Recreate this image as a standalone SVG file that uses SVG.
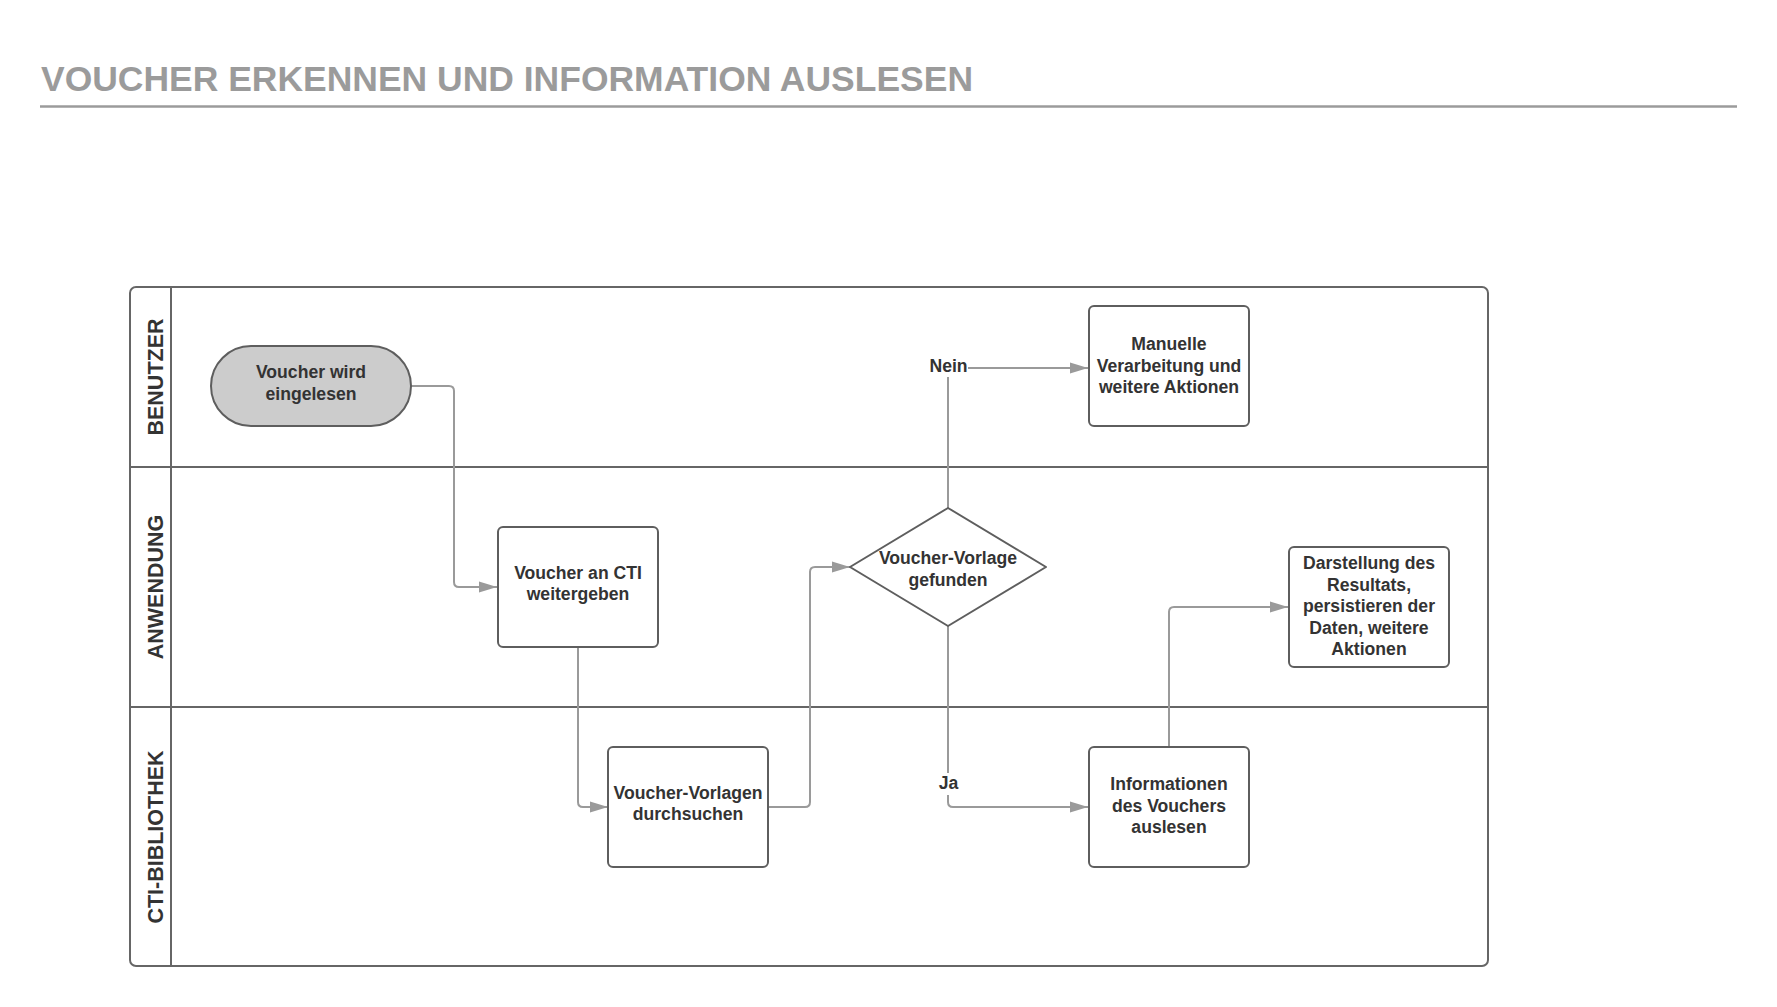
<svg xmlns="http://www.w3.org/2000/svg" width="1777" height="1007" viewBox="0 0 1777 1007">
<style>
.title{font-family:"Liberation Sans",Arial,sans-serif;font-weight:bold;font-size:35.5px;fill:#9b9b9b}
.lane{font-family:"Liberation Sans",Arial,sans-serif;font-weight:bold;font-size:21.5px;fill:#333}
.t{font-family:"Liberation Sans",Arial,sans-serif;font-weight:bold;font-size:17.6px;fill:#333;text-anchor:middle}
.box{fill:#fff;stroke:#5e5e5e;stroke-width:2}
.pool{fill:none;stroke:#666;stroke-width:2}
.conn{fill:none;stroke:#9a9a9a;stroke-width:2}
</style>
<defs>
<marker id="arr" markerUnits="userSpaceOnUse" markerWidth="18" markerHeight="12" refX="18" refY="6" orient="auto">
<path d="M0,0.5 L18,6 L0,11.5 z" fill="#9a9a9a"/>
</marker>
</defs>
<rect width="1777" height="1007" fill="#fff"/>
<g id="title">
<text class="title" x="41" y="91" textLength="932" lengthAdjust="spacingAndGlyphs">VOUCHER ERKENNEN UND INFORMATION AUSLESEN</text>
<line x1="40" y1="106.5" x2="1737" y2="106.5" stroke="#9b9b9b" stroke-width="2.5"/>
</g>
<g id="pool">
<rect class="pool" x="130" y="287" width="1358" height="679" rx="6"/>
<line class="pool" x1="171" y1="287" x2="171" y2="966"/>
<line class="pool" x1="130" y1="467" x2="1488" y2="467"/>
<line class="pool" x1="130" y1="707" x2="1488" y2="707"/>
<text class="lane" text-anchor="middle" transform="translate(163,377) rotate(-90)">BENUTZER</text>
<text class="lane" text-anchor="middle" transform="translate(163,587) rotate(-90)">ANWENDUNG</text>
<text class="lane" text-anchor="middle" transform="translate(163,837) rotate(-90)">CTI-BIBLIOTHEK</text>
</g>
<g id="connectors">
<path class="conn" d="M411 386 H449 Q454 386 454 391 V582 Q454 587 459 587 H497" marker-end="url(#arr)"/>
<path class="conn" d="M578 647 V802 Q578 807 583 807 H608" marker-end="url(#arr)"/>
<path class="conn" d="M768 807 H805 Q810 807 810 802 V572 Q810 567 815 567 H850" marker-end="url(#arr)"/>
<path class="conn" d="M948 508 V373 Q948 368 953 368 H1088" marker-end="url(#arr)"/>
<path class="conn" d="M948 626 V802 Q948 807 953 807 H1088" marker-end="url(#arr)"/>
<path class="conn" d="M1169 747 V612 Q1169 607 1174 607 H1288" marker-end="url(#arr)"/>
<g id="label-nein">
<rect x="928" y="356" width="40" height="21" fill="#fff"/>
<text class="t" x="948.5" y="372">Nein</text>
</g>
<g id="label-ja">
<rect x="937" y="773" width="23" height="22" fill="#fff"/>
<text class="t" x="948.5" y="789">Ja</text>
</g>
</g>
<g id="n-start">
<rect x="211" y="346" width="200" height="80" rx="40" fill="#cccccc" stroke="#5e5e5e" stroke-width="2"/>
<text class="t" x="311" y="378">Voucher wird</text>
<text class="t" x="311" y="399.5">eingelesen</text>
</g>
<g id="n-cti">
<rect class="box" x="498" y="527" width="160" height="120" rx="5"/>
<text class="t" x="578" y="578.5">Voucher an CTI</text>
<text class="t" x="578" y="600">weitergeben</text>
</g>
<g id="n-search">
<rect class="box" x="608" y="747" width="160" height="120" rx="5"/>
<text class="t" x="688" y="798.5">Voucher-Vorlagen</text>
<text class="t" x="688" y="820">durchsuchen</text>
</g>
<g id="n-decision">
<polygon class="box" stroke-linejoin="round" points="850,567 948,508 1046,567 948,626"/>
<text class="t" x="948" y="564">Voucher-Vorlage</text>
<text class="t" x="948" y="586">gefunden</text>
</g>
<g id="n-manual">
<rect class="box" x="1089" y="306" width="160" height="120" rx="5"/>
<text class="t" x="1169" y="350">Manuelle</text>
<text class="t" x="1169" y="371.5">Verarbeitung und</text>
<text class="t" x="1169" y="393">weitere Aktionen</text>
</g>
<g id="n-info">
<rect class="box" x="1089" y="747" width="160" height="120" rx="5"/>
<text class="t" x="1169" y="790">Informationen</text>
<text class="t" x="1169" y="811.5">des Vouchers</text>
<text class="t" x="1169" y="833">auslesen</text>
</g>
<g id="n-result">
<rect class="box" x="1289" y="547" width="160" height="120" rx="5"/>
<text class="t" x="1369" y="569">Darstellung des</text>
<text class="t" x="1369" y="590.5">Resultats,</text>
<text class="t" x="1369" y="612">persistieren der</text>
<text class="t" x="1369" y="633.5">Daten, weitere</text>
<text class="t" x="1369" y="655">Aktionen</text>
</g>
</svg>
